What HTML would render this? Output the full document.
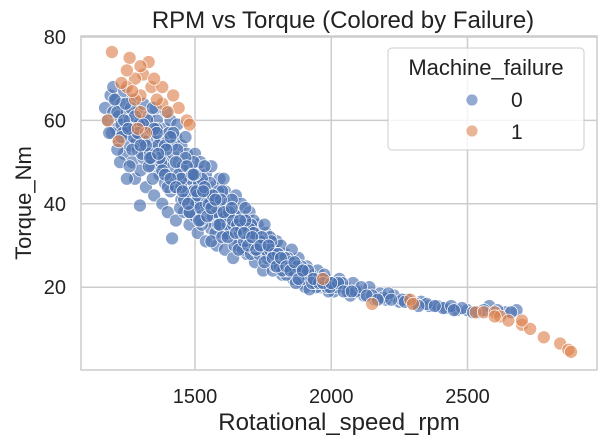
<!DOCTYPE html>
<html><head><meta charset="utf-8"><style>
body{margin:0;background:#fff;}
svg{display:block;font-family:"Liberation Sans",sans-serif;}
</style></head><body>
<svg id="chart" width="606" height="446">
<rect x="0" y="0" width="606" height="446" fill="#fff"/>
<g id="grid"></g>
<g id="marks"></g>
<rect x="81" y="36" width="516" height="334" fill="none" stroke="#cccccc" stroke-width="1.5"/>
<g id="ticks" font-size="20" fill="#222"></g>
<text x="343" y="28" text-anchor="middle" font-size="24" fill="#222">RPM vs Torque (Colored by Failure)</text>
<text x="339" y="430" text-anchor="middle" font-size="24" fill="#222">Rotational_speed_rpm</text>
<text transform="translate(31,203) rotate(-90)" text-anchor="middle" font-size="22" fill="#222">Torque_Nm</text>
<g>
<rect x="388" y="48" width="196" height="102" rx="4" fill="#fff" fill-opacity="0.8" stroke="#cccccc"/>
<text x="486" y="75" text-anchor="middle" font-size="22" fill="#222">Machine_failure</text>
<g><circle cx="472" cy="100" r="6" fill="#4c72b0" fill-opacity="0.6" stroke="#fff" stroke-width="0.8"/><text x="511" y="107" font-size="21" fill="#222">0</text></g>
<g><circle cx="472" cy="131" r="6" fill="#dd8452" fill-opacity="0.6" stroke="#fff" stroke-width="0.8"/><text x="511" y="139" font-size="21" fill="#222">1</text></g>
</g>
</svg>
<script>
const xTicks=[1500,2000,2500];
const yTicks=[20,40,60,80];
const rpm0=[1170,1180,1190,1200,1200,1210,1210,1220,1220,1230,1230,1240,1240,1250,1250,1260,1260,1270,1270,1280,1280,1290,1290,1300,1300,1300,1310,1310,1320,1320,1330,1330,1340,1340,1350,1350,1360,1360,1370,1370,1380,1380,1390,1390,1400,1400,1400,1410,1410,1420,1420,1430,1430,1440,1440,1450,1450,1460,1460,1470,1470,1480,1480,1490,1490,1500,1500,1500,1510,1510,1520,1520,1530,1530,1540,1540,1550,1550,1560,1560,1570,1570,1580,1580,1590,1590,1600,1600,1610,1610,1620,1620,1630,1640,1640,1650,1650,1660,1670,1670,1680,1690,1690,1700,1700,1710,1720,1720,1730,1740,1750,1750,1760,1770,1780,1790,1800,1800,1810,1820,1830,1840,1850,1860,1870,1880,1890,1900,1910,1920,1940,1950,1960,1980,2000,2010,2030,2050,2070,2080,2100,2120,2140,2160,2180,2200,2230,2250,2280,2300,2330,2360,2390,2420,2460,2500,2540,2580,2640,2680,1250,1298,1416,
1225,1265,1285,1305,1325,1345,1355,1365,1385,1395,1415,1425,1435,1445,1455,1465,1475,1485,1495,1505,1515,1525,1535,1545,1555,1565,1575,1585,1595,1605,1615,1625,1635,1645,1655,1665,1675,1685,1695,1705,1715,1725,1735,1745,1755,1765,1775,1785,1795,1815,1825,1835,1855,1865,1885,1905,1925,1945,1965,1990,2020,2060,
1195,1215,1235,1245,1255,1275,1295,1315,1335,1345,1360,1375,1390,1405,1420,1435,1450,1465,1480,1495,1510,1525,1540,1555,1570,1585,1600,1615,1630,1645,1660,1675,1690,1705,1720,1735,1750,1765,1780,1795,1810,1825,1840,1860,1880,1900,1920,1940,1960,1985,2040,2090,2110,2150,2190,2210,2260,2310,2350,2410,2440,2480,2520,2560,2610,2660,
1205,1230,1260,1280,1310,1330,1350,1370,1400,1420,1440,1460,1480,1500,1520,1540,1560,1580,1600,1620,1640,1660,1680,1700,1720,1740,1760,1780,1800,1820,1840,1870,1890,1910,1930,1955,1975,1995,2025,
1215,1240,1270,1290,1320,1340,1360,1380,1395,1410,1430,1450,1470,1490,1505,1520,1535,1550,1565,1580,1595,1610,1625,1640,1655,1670,1685,1700,1715,1730,1745,1760,1775,1790,1805,1830,1850,1875,1895,1915,1935,1970,2000,2045,2075,2130,2170,2220,2270,2320,2380,2450,
1185,1255,1300,1335,1365,1390,1410,1430,1455,1475,1495,1515,1530,1545,1560,1575,1590,1605,1620,1635,1650,1665,1680,1695,1710,1725,1740,1755,1770,1785,1800,1815,1835,1850,1865,1880,1895];
const torque0=[63,60,66,68,62,58,65,61,55,64,59,52,67,57,62,54,60,65,50,58,46,62,53,56,60,48,51,64,57,44,53,61,49,58,55,42,60,51,47,56,53,40,58,45,50,55,38,43,60,48,52,36,56,45,50,41,54,47,38,52,43,35,49,45,40,52,37,44,48,33,41,50,38,45,31,47,42,36,49,34,40,44,30,37,46,41,34,39,29,43,36,40,32,38,27,42,34,30,37,40,33,28,36,31,38,34,26,30,35,32,28,24,33,30,26,29,31,25,27,23,28,25,26,22,24,27,21,23,25,21,22,24,20,22,21,19,22,20,18,21,19,18,20,17,18.5,17,18,16.5,17,16,16.5,15.5,15.5,15,14.5,14.5,14,15.5,14,14.5,46,39.6,31.7,
50,63,55,52,60,46,63,54,49,62,54,44,59,39,49,56,46,42,50,40,45,35,49,39,45,37,33,43,35,46,38,33,41,30,37,33,29,39,33,28,36,33,28,30,35,27,32,24,27,30,26,23,29,25,23,20,23,20,22,19,20,19,
57,62,57,64,58,56,59,55,52,63,58,50,54,57,46,53,44,51,38,43,42,46,40,40,42,35,43,33,35,36,35,35,31,35,29,31,31,28,28,25,25,24,24,24,25,22,19.5,21,21,20,21,19,20,18,17.5,18.5,17,16,16,15,15.5,15,14,14.5,14.5,14,
65,56,49,61,59,49,58,51,44,57,47,41,38,47,36,43,31,41,32,35,35,29,31,34,30,31,29,31,28,24,27,21,25,23,21,21,23,20,21,
53,60,53,57,54,51,57,48,53,56,50,46,49,47,43,39,44,40,42,38,41,37,38,36,35,34,36,32,33,30,32,29,29,28,28,27,26,25,24,24,22,21,21,19,19,18,17,17,16.5,15.5,15.5,14.5,
57,58,54,51,52,47,46,44,43,40,47,36,43,37,39,41,35,38,32,39,33,36,33,30,32,29,30,26,30,27,25,27,25,24,26,22,24];
const rpm1=[1195,1260,1330,1310,1280,1250,1340,1380,1420,1300,1440,1470,1480,1380,1180,1320,1220,1280,1300,1250,1300,1350,1230,1270,1360,1400,1290,1970,2150,2290,2300,2530,2560,2600,2620,2650,2700,2730,2780,2840,2870,2880,2600,2700];
const torque1=[76.4,75,74,71,70,68,68,68,66,66,63,60,59,64,60,57,55,65,73,72,62,70,69,67,65,62,58,22,16,17,16,14,14,14,13,12,11,10,8,6.5,5,4.5,13,12];
const xs=v=>195+(v-1500)*0.2725;
const ys=v=>370.6-v*4.17;
const NS='http://www.w3.org/2000/svg';
const grid=document.getElementById('grid'),ticks=document.getElementById('ticks'),marks=document.getElementById('marks');
xTicks.forEach(t=>{
 const l=document.createElementNS(NS,'line');
 l.setAttribute('x1',xs(t));l.setAttribute('x2',xs(t));l.setAttribute('y1',36);l.setAttribute('y2',370);
 l.setAttribute('stroke','#cccccc');l.setAttribute('stroke-width','1.5');
 
 
 grid.appendChild(l);
 const tx=document.createElementNS(NS,'text');
 tx.setAttribute('x',xs(t));tx.setAttribute('y',403);tx.setAttribute('text-anchor','middle');tx.textContent=t;
 
 
 ticks.appendChild(tx);
});
yTicks.forEach(t=>{
 const l=document.createElementNS(NS,'line');
 l.setAttribute('x1',81);l.setAttribute('x2',597);l.setAttribute('y1',ys(t));l.setAttribute('y2',ys(t));
 l.setAttribute('stroke','#cccccc');l.setAttribute('stroke-width','1.5');
 
 
 grid.appendChild(l);
 const tx=document.createElementNS(NS,'text');
 tx.setAttribute('x',66);tx.setAttribute('y',ys(t)+7);tx.setAttribute('text-anchor','end');tx.textContent=t;
 
 
 ticks.appendChild(tx);
});
function draw(xa,ya,color,name){
 for(let i=0;i<xa.length;i++){
  const c=document.createElementNS(NS,'circle');
  c.setAttribute('cx',xs(xa[i]));c.setAttribute('cy',ys(ya[i]));c.setAttribute('r',6.5);
  c.setAttribute('fill',color);c.setAttribute('fill-opacity','0.65');
  c.setAttribute('stroke','#fff');c.setAttribute('stroke-width','0.7');
  
  
  marks.appendChild(c);
 }
}
draw(rpm0,torque0,'#4c72b0','point-failure-0');
draw(rpm1,torque1,'#dd8452','point-failure-1');
</script>
</body></html>
